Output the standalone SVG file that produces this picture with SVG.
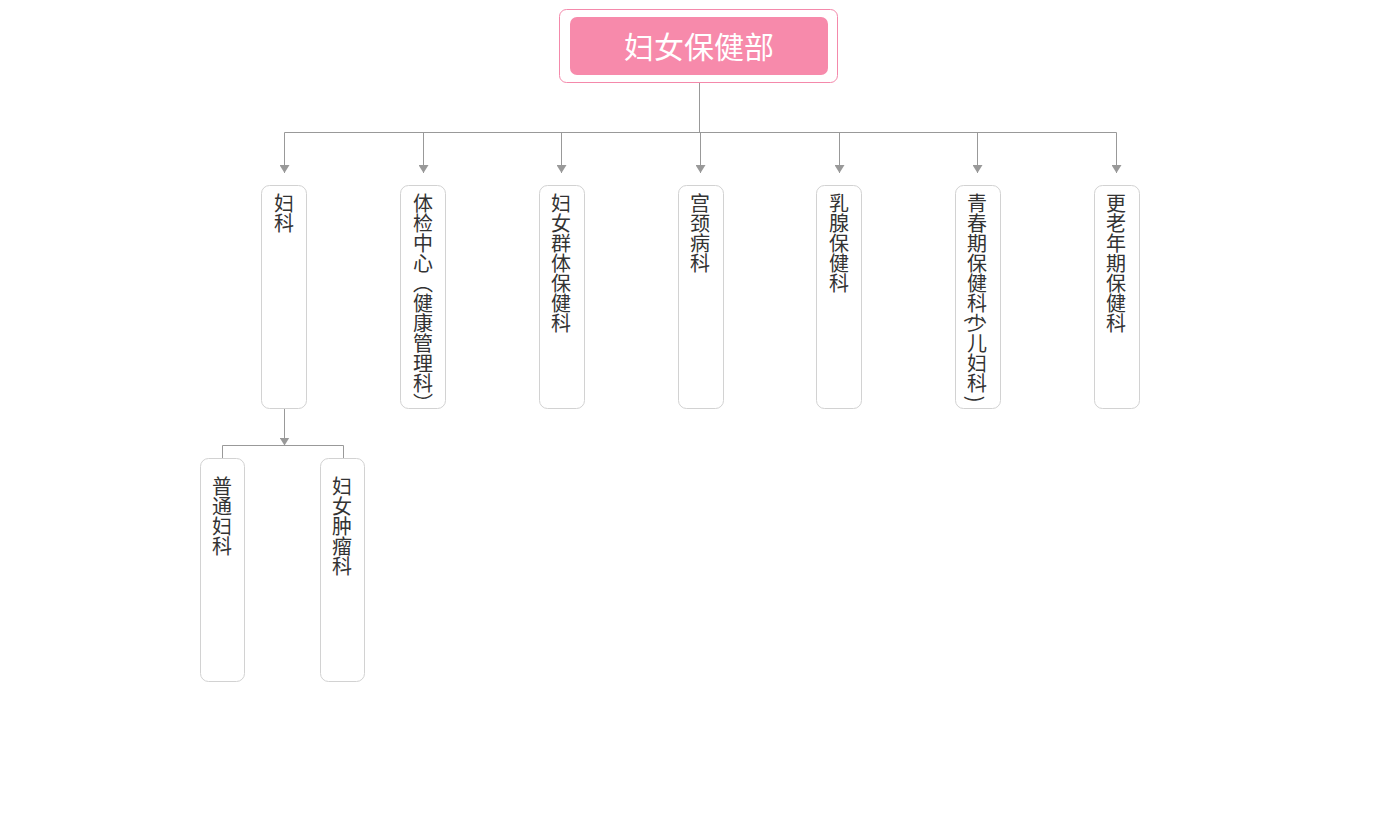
<svg xmlns="http://www.w3.org/2000/svg" width="1400" height="833" viewBox="0 0 1400 833">
<style>
.box{fill:#fff;stroke:#d2d2d2;stroke-width:1}
.lbl{font-family:"Noto Sans CJK SC","Noto Sans",sans-serif;font-size:20px;fill:#333;text-anchor:middle}
.ln{fill:none;stroke:#999;stroke-width:1}
</style>
<defs>
<marker id="arr" viewBox="0 0 8 10" refX="8" refY="5" markerWidth="8" markerHeight="10" markerUnits="userSpaceOnUse" orient="auto">
<path d="M0,0 L8,5 L0,10 Z" fill="#999"/>
</marker>
</defs>
<rect width="1400" height="833" fill="#fff"/>
<g id="connectors">
<path class="ln" d="M699.5,82.5 V132.5"/>
<path class="ln" d="M284.5,132.5 H1116.5"/>
<path class="ln" d="M284.5,132.5 V173" marker-end="url(#arr)"/>
<path class="ln" d="M423.5,132.5 V173" marker-end="url(#arr)"/>
<path class="ln" d="M561.5,132.5 V173" marker-end="url(#arr)"/>
<path class="ln" d="M700.5,132.5 V173" marker-end="url(#arr)"/>
<path class="ln" d="M839.5,132.5 V173" marker-end="url(#arr)"/>
<path class="ln" d="M977.5,132.5 V173" marker-end="url(#arr)"/>
<path class="ln" d="M1116.5,132.5 V173" marker-end="url(#arr)"/>
<path class="ln" d="M284.5,408.5 V445.5" marker-end="url(#arr)"/>
<path class="ln" d="M222.5,458.5 V445.5 H343.5 V458.5"/>
</g>
<g id="root">
<rect x="559.5" y="9.5" width="278" height="73" rx="7" fill="#fff" stroke="#f489ab" stroke-width="1"/>
<rect x="570" y="17" width="258" height="58" rx="7" fill="#f78aab"/>
<text x="699" y="58" font-family="Noto Sans CJK SC, Noto Sans, sans-serif" font-size="30" fill="#fff" text-anchor="middle">妇女保健部</text>
</g>
<g id="n1">
<rect class="box" x="261.5" y="185.5" width="45" height="223" rx="8"/>
<text class="lbl"><tspan x="284" y="211">妇</tspan><tspan x="284" y="231">科</tspan></text>
</g>
<g id="n2">
<rect class="box" x="400.5" y="185.5" width="45" height="223" rx="8"/>
<text class="lbl"><tspan x="423" y="211">体</tspan><tspan x="423" y="231">检</tspan><tspan x="423" y="251">中</tspan><tspan x="423" y="271">心</tspan><tspan x="423" y="291">︵</tspan><tspan x="423" y="311">健</tspan><tspan x="423" y="331">康</tspan><tspan x="423" y="351">管</tspan><tspan x="423" y="371">理</tspan><tspan x="423" y="391">科</tspan><tspan x="423" y="411">︶</tspan></text>
</g>
<g id="n3">
<rect class="box" x="539.5" y="185.5" width="45" height="223" rx="8"/>
<text class="lbl"><tspan x="561" y="211">妇</tspan><tspan x="561" y="231">女</tspan><tspan x="561" y="251">群</tspan><tspan x="561" y="271">体</tspan><tspan x="561" y="291">保</tspan><tspan x="561" y="311">健</tspan><tspan x="561" y="331">科</tspan></text>
</g>
<g id="n4">
<rect class="box" x="678.5" y="185.5" width="45" height="223" rx="8"/>
<text class="lbl"><tspan x="700" y="211">宫</tspan><tspan x="700" y="231">颈</tspan><tspan x="700" y="251">病</tspan><tspan x="700" y="271">科</tspan></text>
</g>
<g id="n5">
<rect class="box" x="816.5" y="185.5" width="45" height="223" rx="8"/>
<text class="lbl"><tspan x="839" y="211">乳</tspan><tspan x="839" y="231">腺</tspan><tspan x="839" y="251">保</tspan><tspan x="839" y="271">健</tspan><tspan x="839" y="291">科</tspan></text>
</g>
<g id="n6">
<rect class="box" x="955.5" y="185.5" width="45" height="223" rx="8"/>
<text class="lbl"><tspan x="977" y="211">青</tspan><tspan x="977" y="231">春</tspan><tspan x="977" y="251">期</tspan><tspan x="977" y="271">保</tspan><tspan x="977" y="291">健</tspan><tspan x="977" y="311">科</tspan><tspan x="977" y="331">少</tspan><tspan x="977" y="351">儿</tspan><tspan x="977" y="371">妇</tspan><tspan x="977" y="391">科</tspan></text>
<text class="lbl" dominant-baseline="central" transform="translate(976,319) rotate(90)">(</text>
<text class="lbl" dominant-baseline="central" transform="translate(976,399) rotate(90)">)</text>
</g>
<g id="n7">
<rect class="box" x="1094.5" y="185.5" width="45" height="223" rx="8"/>
<text class="lbl"><tspan x="1116" y="211">更</tspan><tspan x="1116" y="231">老</tspan><tspan x="1116" y="251">年</tspan><tspan x="1116" y="271">期</tspan><tspan x="1116" y="291">保</tspan><tspan x="1116" y="311">健</tspan><tspan x="1116" y="331">科</tspan></text>
</g>
<g id="n8">
<rect class="box" x="200.5" y="458.5" width="44" height="223" rx="8"/>
<text class="lbl"><tspan x="222" y="494">普</tspan><tspan x="222" y="514">通</tspan><tspan x="222" y="534">妇</tspan><tspan x="222" y="554">科</tspan></text>
</g>
<g id="n9">
<rect class="box" x="320.5" y="458.5" width="44" height="223" rx="8"/>
<text class="lbl"><tspan x="342" y="494">妇</tspan><tspan x="342" y="514">女</tspan><tspan x="342" y="534">肿</tspan><tspan x="342" y="554">瘤</tspan><tspan x="342" y="574">科</tspan></text>
</g>
</svg>
